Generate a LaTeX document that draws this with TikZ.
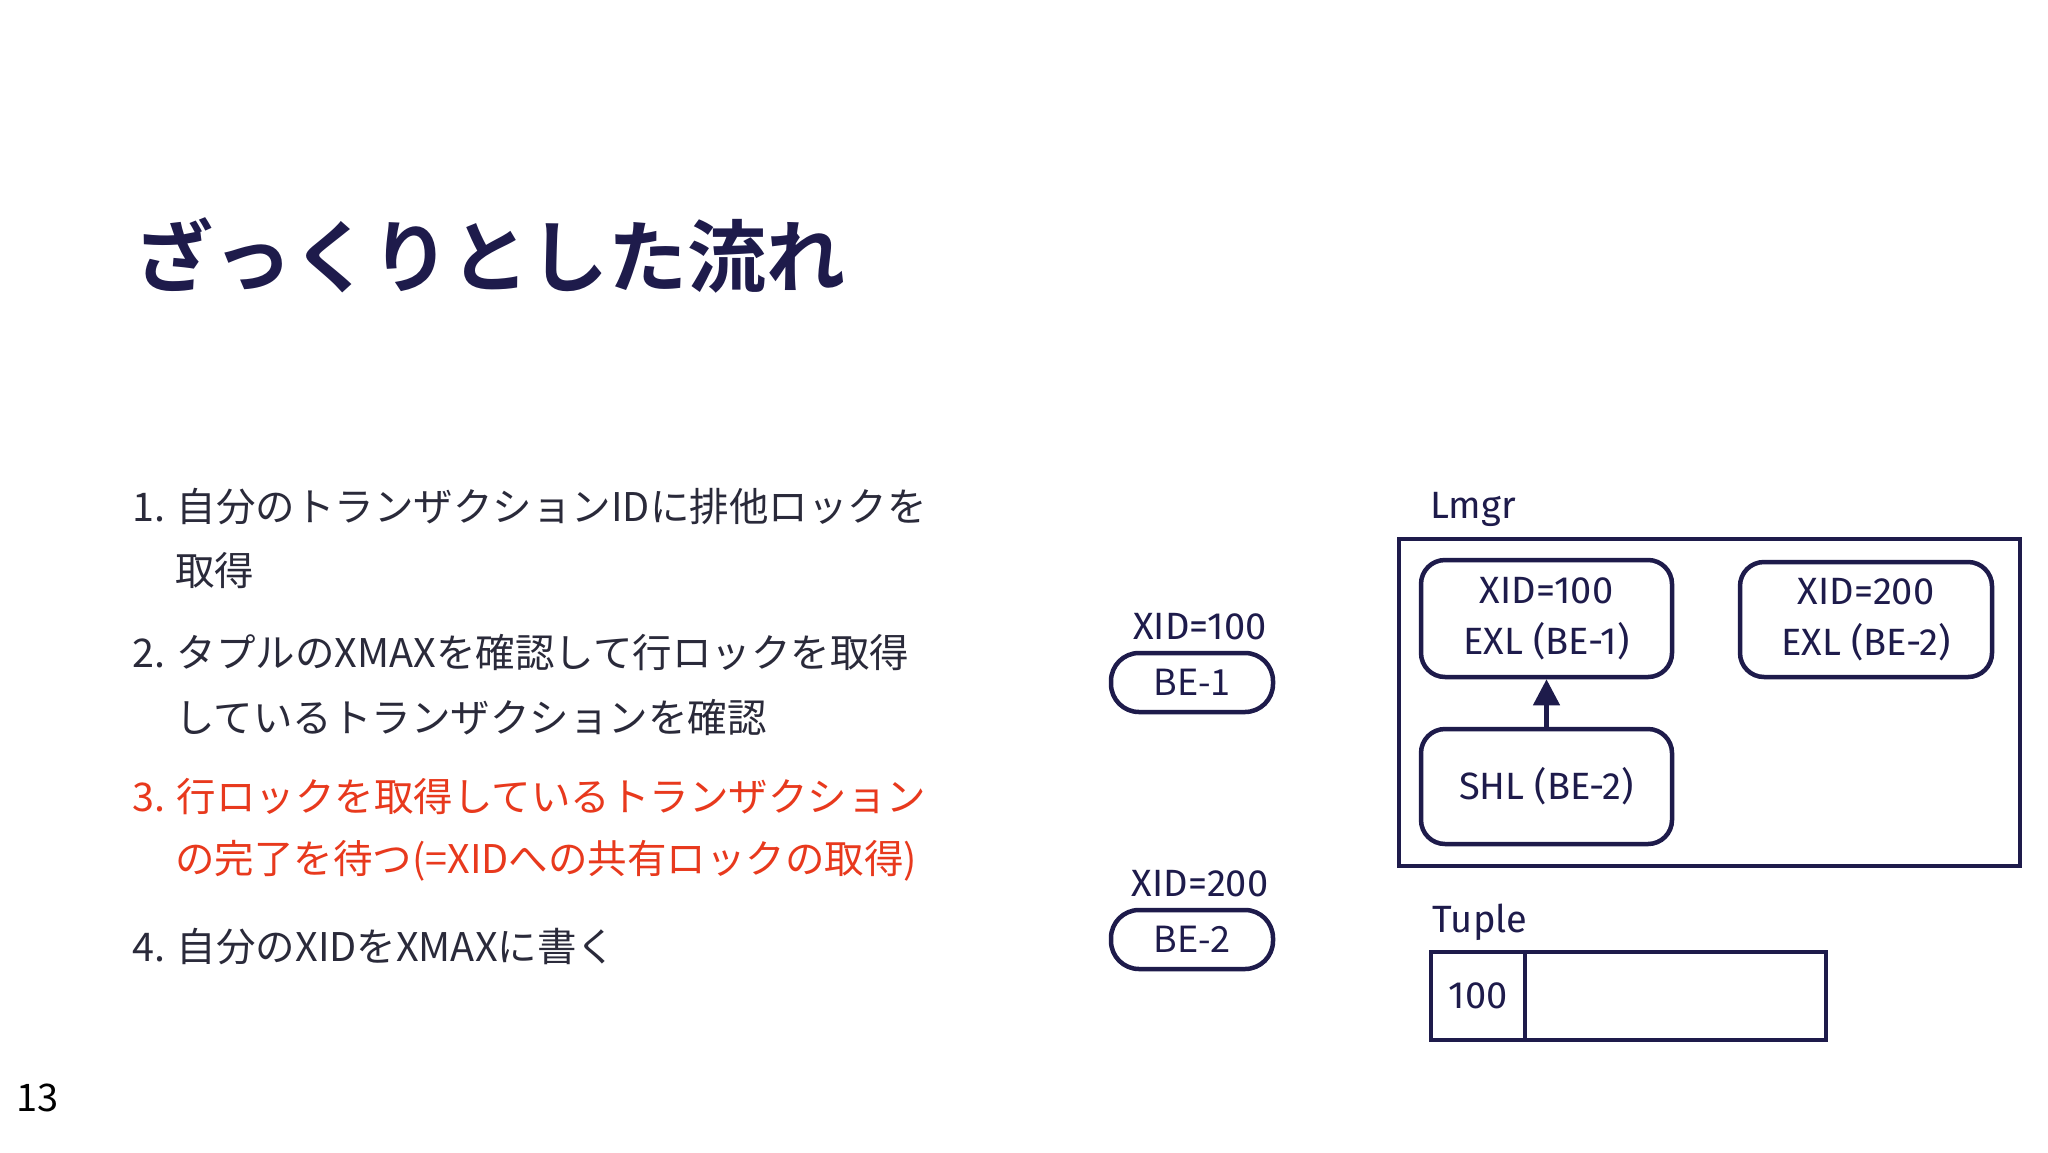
\documentclass[tikz,border=0pt]{standalone}
\usepackage{fontspec}
\setmainfont{Noto Sans CJK JP}
\newfontfamily\jpb{Noto Sans CJK JP Bold}
\newfontfamily\hand{Fira Sans}
\usetikzlibrary{arrows.meta}
\definecolor{navy}{HTML}{1E1B4B}
\definecolor{redt}{HTML}{E8391D}
\definecolor{txt}{HTML}{2A2A3A}
\tikzset{
 lst/.style={anchor=west,inner sep=0pt,text=txt,font=\fontsize{39.5}{39.5}\selectfont},
 dg/.style={font=\hand\fontsize{38}{51}\selectfont,text=navy,align=center},
 pill/.style={draw=navy,line width=4.5pt,rounded corners=28pt},
 lbox/.style={draw=navy,line width=4.5pt,rounded corners=24pt},
 sq/.style={draw=navy,line width=4.5pt}
}
\begin{document}
\begin{tikzpicture}[x=1pt,y=-1pt]
\useasboundingbox[fill=white] (0,0) rectangle (2048,1152);
\node[anchor=west,inner sep=0pt,text=navy,font=\jpb\fontsize{79}{79}\selectfont] (title) at (134,255) {ざっくりとした流れ};
\node[lst] (i1) at (132,507) {1. 自分のトランザクションIDに排他ロックを};
\node[lst] (i1b) at (175,571) {取得};
\node[lst] (i2) at (132,653) {2. タプルのXMAXを確認して行ロックを取得};
\node[lst] (i2b) at (175,717) {しているトランザクションを確認};
\node[lst,text=redt] (i3) at (132,797) {3. 行ロックを取得しているトランザクション};
\node[lst,text=redt] (i3b) at (175,861) {の完了を待つ(=XIDへの共有ロックの取得)};
\node[lst] (i4) at (132,947) {4. 自分のXIDをXMAXに書く};
\node[anchor=west,inner sep=0pt,font=\fontsize{38}{38}\selectfont] (pg) at (16,1098) {13};

\node[dg] (x1) at (1200,627) {XID=100};
\draw[pill] (1111,653) rectangle (1273,712);
\node[dg,font=\fontsize{36}{36}\selectfont] (b1) at (1192,682) {BE-1};
\node[dg] (x2) at (1200,884) {XID=200};
\draw[pill] (1111,910) rectangle (1273,969);
\node[dg,font=\fontsize{36}{36}\selectfont] (b2) at (1192,939) {BE-2};

\node[dg] (lm) at (1473,509) {Lmgr};
\draw[sq] (1399,539) rectangle (2020,866);
\node[lbox,dg,minimum width=251pt,minimum height=117pt] (a) at (1546.5,618.5) {XID=100\\EXL (BE-1)};
\node[lbox,dg,minimum width=252pt,minimum height=115pt] (b) at (1866,619.5) {XID=200\\EXL (BE-2)};
\node[lbox,dg,minimum width=251pt,minimum height=115pt] (c) at (1546.5,786.5) {SHL (BE-2)};
\draw[navy,line width=4.5pt,-{Triangle[length=26pt,width=26pt]}] (c.north) -- (a.south);

\node[dg] (tp) at (1480,922) {Tuple};
\draw[sq] (1431,952) rectangle (1826,1040);
\draw[sq] (1525,952) -- (1525,1040);
\node[dg] (v) at (1478,996) {100};
\end{tikzpicture}
\end{document}
